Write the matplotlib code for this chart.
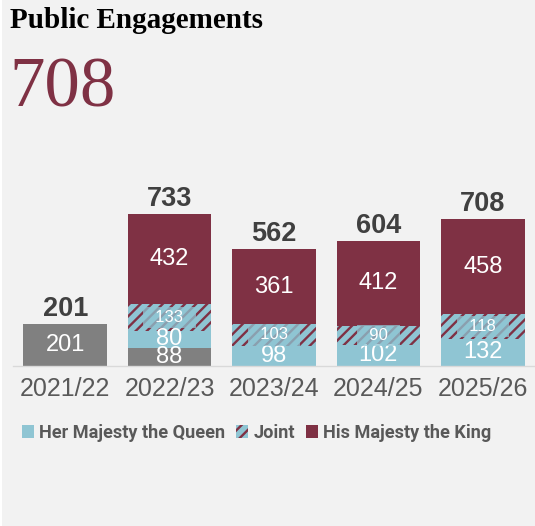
import matplotlib
matplotlib.use("Agg")
import matplotlib.pyplot as plt
from matplotlib.patches import Patch, Rectangle
import numpy as np

# Engagement counts per financial year
years = ["2021/22", "2022/23", "2023/24", "2024/25", "2025/26"]
late_queen = [201, 88, 0, 0, 0]      # grey segment (earlier reign)
queen = [0, 80, 98, 102, 132]
joint = [0, 133, 103, 90, 118]
king = [0, 432, 361, 412, 458]
totals = [201, 733, 562, 604, 708]
headline = "708"

BG = "#f2f2f2"
MAROON = "#7f3144"
BLUE = "#8fc5d3"
GREY = "#808080"
DARK = "#404040"
TICK = "#595959"

plt.rcParams["hatch.linewidth"] = 1.7

fig = plt.figure(figsize=(5.35, 5.26), dpi=100, facecolor=BG)
fig.patches.append(Rectangle((0, 0), 2 / 535, 1, transform=fig.transFigure,
                             facecolor="white", edgecolor="none", zorder=-1))

ax = fig.add_axes([13 / 535, 160 / 526, 522 / 535, 186.7 / 526])
ax.set_facecolor(BG)

x = np.arange(len(years))
w = 0.8
lq = np.array(late_queen)
q = np.array(queen)
j = np.array(joint)
k = np.array(king)

ax.bar(x, lq, w, color=GREY, linewidth=0)
ax.bar(x, q, w, bottom=lq, color=BLUE, linewidth=0)
ax.bar(x, j, w, bottom=lq + q, facecolor=BLUE, edgecolor=MAROON,
       hatch="///", linewidth=0)
ax.bar(x, k, w, bottom=lq + q + j, color=MAROON, linewidth=0)

lab_font = dict(family="Liberation Sans", color="white", ha="center", va="center")
for i in range(len(years)):
    if lq[i]:
        ax.text(x[i], lq[i] / 2, str(lq[i]), fontsize=17, **lab_font)
    if q[i]:
        ax.text(x[i], lq[i] + q[i] / 2, str(q[i]), fontsize=17, **lab_font)
    if j[i]:
        ax.text(x[i], lq[i] + q[i] + j[i] / 2, f"  {j[i]}  ", fontsize=12,
                bbox=dict(boxstyle="square,pad=0.2", facecolor=BLUE,
                          edgecolor="none", alpha=0.75), **lab_font)
    if k[i]:
        ax.text(x[i], lq[i] + q[i] + j[i] + k[i] / 2, str(k[i]), fontsize=17,
                **lab_font)
    ax.annotate(str(totals[i]), (x[i], totals[i]), xytext=(0, 5.8),
                textcoords="offset points", ha="center", va="baseline",
                fontsize=19.5, fontweight="bold", color=DARK,
                family="Liberation Sans", annotation_clip=False)

ax.set_xlim(-0.5, len(years) - 0.5)
ax.set_ylim(0, 900)
ax.set_yticks([])
ax.set_xticks(x)
ax.set_xticklabels(years, fontsize=18, color=TICK, family="Liberation Sans")
ax.tick_params(axis="x", length=0, pad=8.2)
for s in ["top", "right", "left"]:
    ax.spines[s].set_visible(False)
ax.spines["bottom"].set_color("#d9d9d9")
ax.spines["bottom"].set_linewidth(1)

fig.text(10 / 535, 1 - 28 / 526, "Public Engagements", family="Liberation Serif",
         fontweight="bold", fontsize=21, color="black", va="baseline")
fig.text(9 / 535, 1 - 106 / 526, headline, family="Liberation Serif",
         fontsize=51, color=MAROON, va="baseline")

handles = [Patch(facecolor=BLUE, linewidth=0),
           Patch(facecolor=BLUE, edgecolor=MAROON, hatch="///", linewidth=0),
           Patch(facecolor=MAROON, linewidth=0)]
labels = ["Her Majesty the Queen", "Joint", "His Majesty the King"]
leg = fig.legend(handles, labels, loc="center left",
                 bbox_to_anchor=(22 / 535, 1 - 433 / 526), ncol=3, frameon=False,
                 prop=dict(family="Roboto", weight="bold", size=13.1),
                 handlelength=0.66, handleheight=0.66, handletextpad=0.28,
                 columnspacing=0.6, borderaxespad=0, borderpad=0)
for t in leg.get_texts():
    t.set_color(TICK)

fig.savefig("out.png", dpi=100, facecolor=BG)
